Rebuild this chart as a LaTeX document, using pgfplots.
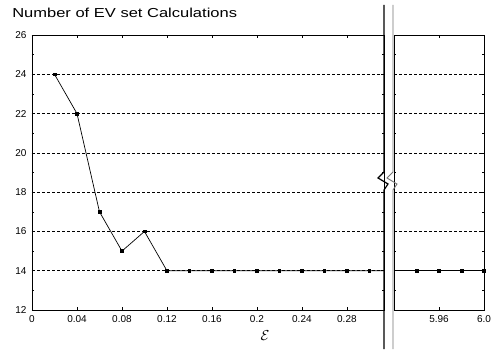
\documentclass[border=0pt]{standalone}
\usepackage{pgfplots}
\pgfplotsset{compat=1.18}
\usepackage{fontspec}
\setmainfont{Liberation Sans}
\begin{document}
\begin{tikzpicture}[x=1pt,y=1pt]
\useasboundingbox (0,0) rectangle (497,349);
\pgfplotsset{
  brk/.style={
    scale only axis, anchor=south west,
    height=275pt, ymin=12, ymax=26,
    ytick={12,14,...,26}, minor y tick num=1,
    ymajorgrids, major grid style={black, densely dashed, line width=0.5pt},
    tick align=inside, major tick length=3pt, minor tick length=2pt,
    axis line style={line width=0.8pt},
    tick style={black, line width=0.5pt},
    ticklabel style={font=\fontsize{10}{12}\selectfont},
    /pgf/number format/assume math mode=true,
    clip=false,
  }
}
\begin{axis}[brk, at={(32pt,39pt)}, width=352pt,
  xmin=0, xmax=0.313,
  xtick={0,0.04,0.08,0.12,0.16,0.2,0.24,0.28},
  xticklabels={0,0.04,0.08,0.12,0.16,0.2,0.24,0.28},
  yticklabels={12,14,16,18,20,22,24,26},
  xticklabel style={yshift=-2pt},
  yticklabel style={xshift=-2pt}]
\addplot[black, line width=0.7pt, mark=square*, mark size=1.4pt, mark indices={1,...,15}] coordinates {
(0.02,24) (0.04,22) (0.06,17) (0.08,15) (0.10,16) (0.12,14) (0.14,14) (0.16,14)
(0.18,14) (0.20,14) (0.22,14) (0.24,14) (0.26,14) (0.28,14) (0.30,14) (0.313,14)};
\end{axis}
\begin{axis}[brk, at={(394pt,39pt)}, width=90pt,
  xmin=5.92, xmax=6.0,
  xtick={5.96,6.0}, xticklabels={5.96,6.0},
  yticklabels={},
  xticklabel style={yshift=-2pt}]
\addplot[black, line width=0.7pt, mark=square*, mark size=1.4pt, mark indices={2,3,4,5}] coordinates {
(5.92,14) (5.94,14) (5.96,14) (5.98,14) (6.0,14)};
\end{axis}
% axis break lines
\fill[white] (385,0) rectangle (393,349);
\draw[black, line width=1.2pt] (384,344) -- (384,177) -- (378,171) -- (388,165) -- (384,159) -- (384,0);
\draw[black!55, line width=0.9pt] (393,344) -- (393,177) -- (387,171) -- (397,165) -- (393,159) -- (393,0);
\node[anchor=base west, inner sep=0pt, font=\fontsize{13}{15}\selectfont, xscale=1.27] at (12,331.7) {Number of EV set Calculations};
\node[font=\fontsize{14}{16}\selectfont] at (265,13) {$\mathcal{E}$};
\end{tikzpicture}
\end{document}
